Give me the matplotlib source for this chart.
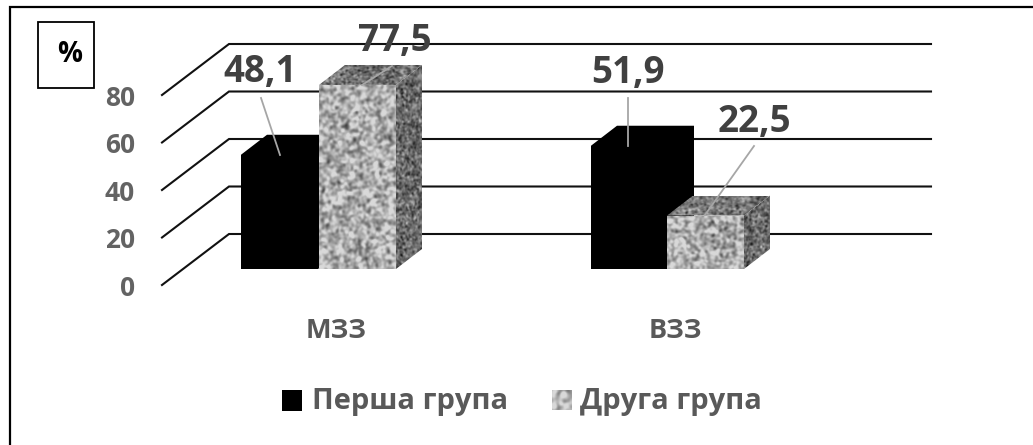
import numpy as np
import matplotlib
matplotlib.use('Agg')
import matplotlib.pyplot as plt
from matplotlib.patches import Polygon, Rectangle

plt.rcParams['font.family'] = ['Open Sans', 'DejaVu Sans']
plt.rcParams['font.weight'] = 'bold'

categories = ['МЗЗ', 'ВЗЗ']
series_names = ['Перша група', 'Друга група']
first_group = [48.1, 51.9]
second_group = [77.5, 22.5]
value_labels_first = ['48,1', '51,9']
value_labels_second = ['77,5', '22,5']
y_ticks = [0, 20, 40, 60, 80]

W, H = 1033, 445
PX_PER_UNIT = 2.375
BASE_PX = 269  # pixel row of the bars' front bottom edge

fig = plt.figure(figsize=(W / 100, H / 100), dpi=100, facecolor='white')
ax = fig.add_axes([0, 0, 1, 1])
ax.set_xlim(0, W)
ax.set_ylim((BASE_PX - H) / PX_PER_UNIT, BASE_PX / PX_PER_UNIT)
ax.axis('off')


def py(pixel_row):
    return (BASE_PX - pixel_row) / PX_PER_UNIT


# smoothed noise used as the stone fill
def stone(shape, seed, sigma=1.5):
    rng = np.random.default_rng(seed)
    a = rng.normal(size=shape)
    r = int(3 * sigma)
    k = np.exp(-np.arange(-r, r + 1) ** 2 / (2 * sigma ** 2))
    k /= k.sum()
    a = np.apply_along_axis(lambda m: np.convolve(m, k, mode='same'), 0, a)
    a = np.apply_along_axis(lambda m: np.convolve(m, k, mode='same'), 1, a)
    return a / a.std()


def textured(poly, seed, mid, spread, sigma=1.5, top=0.85):
    xs, ys = zip(*poly)
    x0, x1, y0, y1 = min(xs), max(xs), min(ys), max(ys)
    h = int((y1 - y0) * PX_PER_UNIT) + 8
    w = int(x1 - x0) + 8
    tex = np.clip(mid + spread * stone((h, w), seed, sigma), 0, top)
    im = ax.imshow(tex, cmap='gray', vmin=0, vmax=1, extent=(x0, x1, y0, y1),
                   aspect='auto', zorder=4, interpolation='bilinear')
    im.set_clip_path(Polygon(poly, transform=ax.transData))


# walls of the 3D plot: slanted floor/wall lines and back gridlines
SLANT_X0, SLANT_X1, BACK_X1 = 162, 229, 931
FRONT_0, BACK_0 = 285, 234
for t in y_ticks:
    front = py(FRONT_0) + t
    back = py(BACK_0) + t
    ax.plot([SLANT_X0, SLANT_X1, BACK_X1], [front, back, back], color='#111111', lw=1.5,
            zorder=2, solid_joinstyle='miter')
    ax.text(135, front - 1.4, str(t), ha='right', va='center', fontsize=19, color='#636363')

# bars
DX, DY = 26, 20 / PX_PER_UNIT
BAR_W = 77
black_x = [241, 591]
stone_x = [319, 667]
category_x = [336, 675]
for i, cat in enumerate(categories):
    x = black_x[i]
    x2 = stone_x[i]
    v1, v2 = first_group[i], second_group[i]

    # black bar, with its top and side
    ax.add_patch(Polygon([(x, 0), (x, v1), (x + DX, v1 + DY), (x + BAR_W + DX, v1 + DY),
                          (x + BAR_W + DX, DY), (x + BAR_W, 0)], fc='black', lw=0, zorder=3))

    # stone bar
    side = [(x2 + BAR_W, 0), (x2 + BAR_W, v2), (x2 + BAR_W + DX, v2 + DY), (x2 + BAR_W + DX, DY)]
    top = [(x2, v2), (x2 + DX, v2 + DY), (x2 + BAR_W + DX, v2 + DY), (x2 + BAR_W, v2)]
    front = [(x2, 0), (x2, v2), (x2 + BAR_W, v2), (x2 + BAR_W, 0)]
    textured(side, 10 + i, 0.42, 0.10, 1.0)
    textured(top, 20 + i, 0.46, 0.10, 1.0)
    textured(front, 30 + i, 0.68, 0.12, 1.4)

    ax.text(category_x[i], py(331), cat, ha='center', va='center',
            fontsize=19.5, color='#595959')

# value labels and their leader lines
label_px = [(260, 72), (628, 73)]
leader_first = [((261, 98), (280, 155)), ((628, 98), (628, 146))]
for i in range(2):
    ax.text(label_px[i][0], py(label_px[i][1]), value_labels_first[i], ha='center', va='center',
            fontsize=26.5, color='#404040', zorder=6)
    (a, b), (c, d) = leader_first[i]
    ax.plot([a, c], [py(b), py(d)], color='#a6a6a6', lw=1.3, zorder=5)

label_px = [(395, 41), (754, 122)]
leader_second = [((392, 66), (362, 85)), ((754, 146), (705, 215))]
for i in range(2):
    ax.text(label_px[i][0], py(label_px[i][1]), value_labels_second[i], ha='center', va='center',
            fontsize=26.5, color='#404040', zorder=6)
    (a, b), (c, d) = leader_second[i]
    ax.plot([a, c], [py(b), py(d)], color='#a6a6a6', lw=1.3, zorder=5)

# legend
ax.add_patch(Rectangle((282, py(411)), 20, 21 / PX_PER_UNIT, fc='black', lw=0, zorder=4))
ax.text(312, py(401), series_names[0], ha='left', va='center', fontsize=21, color='#595959')
swatch = [(552, py(410)), (552, py(390)), (572, py(390)), (572, py(410))]
textured(swatch, 50, 0.68, 0.12, 2.5)
ax.text(580, py(401), series_names[1], ha='left', va='center', fontsize=21, color='#595959')

# "%" box
ax.add_patch(Rectangle((38, py(88)), 56, 66 / PX_PER_UNIT, fill=False, ec='black', lw=1.3, zorder=4))
ax.text(70, py(55), '%', ha='center', va='center', fontsize=20, color='black')

# frame runs along the top and left edges only
ax.plot([9.5, 9.5, W], [py(H), py(7), py(7)], color='black', lw=1.6, zorder=1,
        solid_joinstyle='miter', clip_on=False)

ax.set_xlim(0, W)
ax.set_ylim((BASE_PX - H) / PX_PER_UNIT, BASE_PX / PX_PER_UNIT)
fig.savefig('out.png', dpi=100, facecolor='white')
